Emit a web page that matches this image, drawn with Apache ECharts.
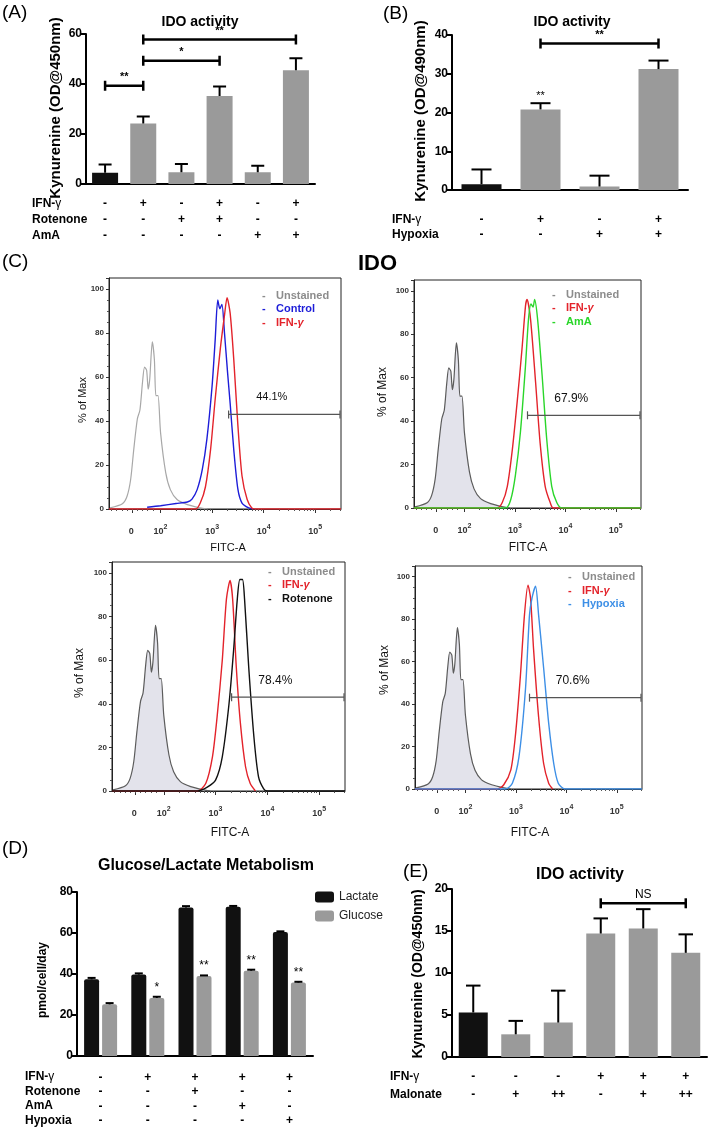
<!DOCTYPE html>
<html>
<head>
<meta charset="utf-8">
<script src="https://cdn.jsdelivr.net/npm/echarts@6/dist/echarts.min.js"></script>
<style>
  html, body { margin: 0; padding: 0; background: #fff; }
  #chart { width: 709px; height: 1129px; }
</style>
</head>
<body>
<div id="chart"></div>
<script>
const FONT = '"Liberation Sans", Arial, sans-serif';

// panel A - IDO activity (OD@450nm)
const aIfn = ['-', '+', '-', '+', '-', '+'];
const aRot = ['-', '-', '+', '+', '-', '-'];
const aAmA = ['-', '-', '-', '-', '+', '+'];
const aMean = [4.5, 24.2, 4.7, 35.2, 4.7, 45.5];
const aErr = [3.3, 2.8, 3.3, 3.8, 2.6, 4.8];
const aSig = [[0, 1, 39.3, '**'], [1, 3, 49.3, '*'], [1, 5, 57.8, '**']];

// panel B - IDO activity (OD@490nm)
const bIfn = ['-', '+', '-', '+'];
const bHyp = ['-', '-', '+', '+'];
const bMean = [1.5, 20.8, 0.9, 31.2];
const bErr = [3.8, 1.6, 2.8, 2.2];
const bStars = ['', '**', '', ''];
const bSig = [[1, 3, 37.8, '**']];

// panel C - flow histograms, x in decades (2 = 10^2), y in % of max
const flowTickVals = [1.45, 2, 3, 4, 5];
const flowTickExp = ['', '2', '3', '4', '5'];
const unstained = [[1.02, 0.5], [1.26, 2.4], [1.35, 5.8], [1.42, 13.4], [1.48, 27], [1.55, 41], [1.6, 45],
  [1.65, 57.6], [1.69, 64.5], [1.73, 63], [1.76, 54.5], [1.79, 59], [1.84, 76], [1.88, 68], [1.91, 51.5],
  [1.95, 51.5], [2.0, 34.7], [2.1, 16.5], [2.19, 8.8], [2.32, 4.3], [2.52, 2], [2.77, 0.5], [2.9, 0]];
const ctrlTL = [[1.74, 0.8], [2.0, 1.5], [2.3, 2.5], [2.52, 3.2], [2.61, 4.5], [2.71, 8.8], [2.81, 18],
  [2.9, 32], [3.0, 56], [3.06, 77], [3.11, 95], [3.15, 91], [3.19, 93], [3.24, 80], [3.3, 62], [3.35, 48],
  [3.42, 27], [3.5, 9], [3.58, 2.7], [3.71, 0.5], [3.8, 0]];
const ifnTL = [[1.0, 0], [2.68, 0], [2.77, 2.7], [2.87, 10], [2.97, 27], [3.06, 50], [3.16, 73], [3.24, 88],
  [3.29, 96], [3.35, 89], [3.42, 68], [3.5, 38], [3.58, 15], [3.68, 4.3], [3.77, 0.5], [3.85, 0], [5.5, 0]];
const ifnTR = [[1.0, 0], [2.65, 0], [2.75, 2.5], [2.85, 10], [2.95, 27], [3.05, 50], [3.14, 73], [3.21, 93],
  [3.24, 96], [3.31, 87], [3.41, 58], [3.5, 30], [3.6, 10], [3.7, 2.5], [3.76, 0], [5.5, 0]];
const amaTR = [[1.0, 0], [2.82, 0], [2.92, 4], [3.01, 15], [3.11, 35], [3.21, 65.5], [3.27, 87], [3.32, 94],
  [3.36, 92.5], [3.39, 96], [3.45, 87], [3.54, 61], [3.63, 32], [3.73, 10], [3.83, 2.5], [3.93, 0], [5.5, 0]];
const ifnBL = [[1.0, 0], [2.65, 0], [2.81, 3.4], [2.94, 15.7], [3.03, 34], [3.13, 60], [3.21, 88], [3.28, 96.5],
  [3.33, 88], [3.4, 57], [3.48, 31], [3.58, 11], [3.67, 3.4], [3.77, 0]];
const rotBL = [[1.0, 0], [2.65, 0], [2.84, 1.8], [3.0, 5], [3.13, 15.7], [3.26, 40], [3.35, 65], [3.42, 88],
  [3.47, 97], [3.52, 97], [3.56, 88], [3.64, 57], [3.74, 25], [3.83, 6.5], [3.93, 1], [4.0, 0], [5.5, 0]];
const ifnBR = [[1.0, 0], [2.63, 0], [2.76, 2], [2.9, 9], [2.99, 25], [3.09, 53.5], [3.17, 82], [3.24, 96],
  [3.29, 90], [3.35, 66], [3.45, 34], [3.55, 12], [3.65, 2.7], [3.73, 0]];
const hypBR = [[1.0, 0], [2.8, 0], [2.93, 2.7], [3.06, 15], [3.19, 47], [3.27, 82], [3.32, 90], [3.39, 95.5],
  [3.45, 82], [3.55, 57], [3.65, 31], [3.75, 12], [3.84, 2.7], [3.97, 0], [5.5, 0]];
const gateTL = [3.32, 5.5, 43, '44.1%'];
const gateTR = [3.25, 5.5, 42.7, '67.9%'];
const gateBL = [3.31, 5.5, 43, '78.4%'];
const gateBR = [3.27, 5.5, 43, '70.6%'];

// panel D - glucose / lactate
const dIfn = ['-', '+', '+', '+', '+'];
const dRot = ['-', '-', '+', '-', '-'];
const dAmA = ['-', '-', '-', '+', '-'];
const dHyp = ['-', '-', '-', '-', '+'];
const lactate = [37.4, 39.7, 72.5, 72.8, 60.5];
const lactateErr = [0.7, 0.6, 0.6, 0.4, 0.3];
const glucose = [25.2, 28.3, 39, 41.6, 35.8];
const glucoseErr = [0.6, 0.6, 0.3, 0.5, 0.4];
const dStars = ['', '*', '**', '**', '**'];

// panel E - IDO activity with malonate
const eIfn = ['-', '-', '-', '+', '+', '+'];
const eMal = ['-', '+', '++', '-', '+', '++'];
const eMean = [5.3, 2.7, 4.1, 14.7, 15.3, 12.4];
const eErr = [3.2, 1.6, 3.8, 1.8, 2.3, 2.2];
const eSig = [[3, 5, 18.3, 'NS']];

const option = {animation: false, grid: [], xAxis: [], yAxis: [], series: [], graphic: []};

function addGrid(box) {
  option.grid.push(Object.assign({containLabel: false, outerBoundsMode: 'none'}, box));
  return option.grid.length - 1;
}

function txt(x, y, s, font, opt) {
  opt = opt || {};
  return {
    type: 'text', x: x, y: y, rotation: opt.rot || 0, z: 100,
    style: {text: s, font: font, fill: opt.fill || '#000', textAlign: opt.align || 'left',
      textVerticalAlign: 'middle', rich: opt.rich}
  };
}

function errRender(capW, dx) {
  return function (params, api) {
    const p0 = api.coord([api.value(0), api.value(1)]);
    const p1 = api.coord([api.value(0), api.value(1) + api.value(2)]);
    const x = p0[0] + (dx || 0);
    const st = {stroke: '#000', lineWidth: 2};
    return {type: 'group', children: [
      {type: 'line', shape: {x1: x, y1: p0[1], x2: x, y2: p1[1]}, style: st},
      {type: 'line', shape: {x1: x - capW / 2, y1: p1[1], x2: x + capW / 2, y2: p1[1]}, style: st}
    ]};
  };
}

function sigRender(list, font) {
  return function (params, api) {
    const a = api.coord([api.value(0), api.value(2)]);
    const b = api.coord([api.value(1), api.value(2)]);
    const st = {stroke: '#000', lineWidth: 2.5};
    return {type: 'group', children: [
      {type: 'line', shape: {x1: a[0], y1: a[1], x2: b[0], y2: b[1]}, style: st},
      {type: 'line', shape: {x1: a[0], y1: a[1] - 5, x2: a[0], y2: a[1] + 5}, style: st},
      {type: 'line', shape: {x1: b[0], y1: b[1] - 5, x2: b[0], y2: b[1] + 5}, style: st},
      {type: 'text', style: {text: list[params.dataIndex][3], x: (a[0] + b[0]) / 2, y: a[1] - 3,
        textAlign: 'center', textVerticalAlign: 'bottom', font: font, fill: '#000'}}
    ]};
  };
}

function barAxes(gi, rows, yMax, yInt, lineH, margin) {
  const cats = rows[0].map((s, i) => 'c' + i);
  option.xAxis.push({
    type: 'category', gridIndex: gi, data: cats,
    axisLine: {lineStyle: {color: '#000', width: 2}},
    axisTick: {alignWithLabel: true, length: 5, lineStyle: {color: '#000', width: 2}},
    axisLabel: {interval: 0, margin: margin, lineHeight: lineH, fontSize: 12, fontWeight: 'bold',
      color: '#000', fontFamily: FONT, formatter: (v, i) => rows.map(r => r[i]).join('\n')}
  });
  option.yAxis.push({
    type: 'value', gridIndex: gi, min: 0, max: yMax, interval: yInt, splitLine: {show: false},
    axisLine: {show: true, lineStyle: {color: '#000', width: 2}},
    axisTick: {show: true, length: 5, lineStyle: {color: '#000', width: 2}},
    axisLabel: {fontSize: 12, fontWeight: 'bold', color: '#000', margin: 4, fontFamily: FONT}
  });
  return [option.xAxis.length - 1, option.yAxis.length - 1];
}

function simpleBars(ax, vals, errs, barW, stars, starDist) {
  option.series.push({
    type: 'bar', xAxisIndex: ax[0], yAxisIndex: ax[1], data: vals, barWidth: barW, z: 2,
    itemStyle: {color: p => p.dataIndex === 0 ? '#111' : '#9a9a9a'},
    label: stars ? {show: true, position: 'top', distance: starDist, formatter: p => stars[p.dataIndex],
      fontSize: 11, color: '#000', fontFamily: FONT} : {show: false}
  });
  option.series.push({
    type: 'custom', xAxisIndex: ax[0], yAxisIndex: ax[1], z: 3, clip: false,
    data: vals.map((v, i) => [i, v, errs[i]]), renderItem: errRender(barW * 0.5, 0)
  });
}

function sigSeries(ax, list, font) {
  option.series.push({
    type: 'custom', xAxisIndex: ax[0], yAxisIndex: ax[1], z: 4, clip: false,
    data: list.map(s => [s[0], s[1], s[2]]), renderItem: sigRender(list, font)
  });
}

const IFN_RICH = {b: {font: 'bold 12px ' + FONT, fill: '#000'}, g: {font: '12px ' + FONT, fill: '#000'}};
function rowNames(x, ys, names) {
  names.forEach((nm, i) => {
    if (nm === 'IFN-γ') option.graphic.push(txt(x, ys[i], '{b|IFN-}{g|γ}', 'bold 12px ' + FONT, {rich: IFN_RICH}));
    else option.graphic.push(txt(x, ys[i], nm, 'bold 12px ' + FONT));
  });
}

// ---------- A
let gA = addGrid({left: 86, top: 34, width: 229, height: 150});
let axA = barAxes(gA, [aIfn, aRot, aAmA], 60, 20, 16, 12);
simpleBars(axA, aMean, aErr, 26);
sigSeries(axA, aSig, 'bold 11px ' + FONT);
rowNames(32, [204, 220, 236], ['IFN-γ', 'Rotenone', 'AmA']);
option.graphic.push(txt(2, 13, '(A)', '19px ' + FONT));
option.graphic.push(txt(200, 22, 'IDO activity', 'bold 14px ' + FONT, {align: 'center'}));
option.graphic.push(txt(56, 108, 'Kynurenine (OD@450nm)', 'bold 15px ' + FONT, {align: 'center', rot: Math.PI / 2}));

// ---------- B
let gB = addGrid({left: 452, top: 35, width: 236, height: 155});
let axB = barAxes(gB, [bIfn, bHyp], 40, 10, 15, 22);
simpleBars(axB, bMean, bErr, 40, bStars, 8);
sigSeries(axB, bSig, 'bold 11px ' + FONT);
rowNames(392, [220, 235], ['IFN-γ', 'Hypoxia']);
option.graphic.push(txt(383, 14, '(B)', '19px ' + FONT));
option.graphic.push(txt(572, 22, 'IDO activity', 'bold 14px ' + FONT, {align: 'center'}));
option.graphic.push(txt(421, 111, 'Kynurenine (OD@490nm)', 'bold 15px ' + FONT, {align: 'center', rot: Math.PI / 2}));

// ---------- C
option.graphic.push(txt(2, 262, '(C)', '19px ' + FONT));
option.graphic.push(txt(358, 264, 'IDO', 'bold 22px ' + FONT));

const flowMinor = [];
for (let u = 1.05; u < 1.95; u += 0.1) flowMinor.push(+u.toFixed(2));
for (let d = 2; d <= 5; d++) {
  for (let k = 2; k <= 9; k++) {
    const u = d + Math.log10(k);
    if (u <= 5.5) flowMinor.push(u);
  }
}

const GRAY_LINE = '#5c5c5c', GRAY_FILL = '#e3e3eb';
const flowPlots = [
  {box: {left: 109, top: 278, width: 232, height: 231}, lightUnstained: true,
    curves: [[ctrlTL, '#1d1dd8'], [ifnTL, '#e3232b']], gate: gateTL, gateFont: 11,
    legend: [['Unstained', '#8c8c8c'], ['Control', '#1d1dd8'], ['IFN-γ', '#e3232b']],
    legX: 262, legY: [296, 309, 323], yName: [83, 400], xName: [228, 548], nameSize: 11},
  {box: {left: 414, top: 280, width: 227, height: 228},
    curves: [[ifnTR, '#e3232b'], [amaTR, '#2ad62a']], gate: gateTR, gateFont: 12,
    legend: [['Unstained', '#8c8c8c'], ['IFN-γ', '#e3232b'], ['AmA', '#2ad62a']],
    legX: 552, legY: [295, 308, 322], yName: [383, 392], xName: [528, 548], nameSize: 12},
  {box: {left: 112, top: 562, width: 233, height: 229},
    curves: [[ifnBL, '#e3232b'], [rotBL, '#111111']], gate: gateBL, gateFont: 12,
    legend: [['Unstained', '#8c8c8c'], ['IFN-γ', '#e3232b'], ['Rotenone', '#111111']],
    legX: 268, legY: [572, 585, 599], yName: [80, 673], xName: [230, 833], nameSize: 12},
  {box: {left: 415, top: 566, width: 227, height: 223},
    curves: [[ifnBR, '#e3232b'], [hypBR, '#3d8fe6']], gate: gateBR, gateFont: 12,
    legend: [['Unstained', '#8c8c8c'], ['IFN-γ', '#e3232b'], ['Hypoxia', '#3d8fe6']],
    legX: 568, legY: [577, 591, 604], yName: [385, 670], xName: [530, 833], nameSize: 12}
];

function gateRender(label, fs) {
  return function (params, api) {
    const a = api.coord([api.value(0), api.value(2)]);
    const b = api.coord([api.value(1), api.value(2)]);
    const st = {stroke: '#555', lineWidth: 1.2};
    return {type: 'group', children: [
      {type: 'line', shape: {x1: a[0], y1: a[1], x2: b[0] - 1, y2: b[1]}, style: st},
      {type: 'line', shape: {x1: a[0], y1: a[1] - 4, x2: a[0], y2: a[1] + 4}, style: st},
      {type: 'line', shape: {x1: b[0] - 1, y1: b[1] - 4, x2: b[0] - 1, y2: b[1] + 4}, style: st},
      {type: 'text', style: {text: label, x: (a[0] + b[0]) / 2 - 13, y: a[1] - 17, textAlign: 'center',
        textVerticalAlign: 'middle', font: fs + 'px ' + FONT, fill: '#111'}}
    ]};
  };
}

flowPlots.forEach(fp => {
  const gi = addGrid(Object.assign({show: true, borderColor: '#222', borderWidth: 1}, fp.box));
  option.xAxis.push({
    type: 'value', gridIndex: gi, min: 1, max: 5.5, position: 'bottom', splitLine: {show: false},
    axisLine: {show: true, lineStyle: {color: '#222', width: 1}},
    axisTick: {show: true, length: 4, customValues: flowTickVals, lineStyle: {color: '#333'}},
    axisLabel: {customValues: flowTickVals, margin: 15, fontFamily: FONT,
      rich: {
        b: {fontSize: 9, fontWeight: 'bold', color: '#333', fontFamily: FONT},
        s: {fontSize: 7, fontWeight: 'bold', color: '#333', fontFamily: FONT, padding: [0, 0, 8, 0]}
      },
      formatter: v => {
        const i = flowTickVals.findIndex(t => Math.abs(t - v) < 1e-6);
        if (i < 0) return '';
        return flowTickExp[i] ? '{b|10}{s|' + flowTickExp[i] + '}' : '{b|0}{s| }';
      }}
  });
  const xi = option.xAxis.length - 1;
  option.xAxis.push({
    type: 'value', gridIndex: gi, min: 1, max: 5.5, position: 'bottom', offset: 0, splitLine: {show: false},
    axisLine: {show: false}, axisLabel: {show: false},
    axisTick: {show: true, length: 2, customValues: flowMinor, lineStyle: {color: '#555'}}
  });
  option.yAxis.push({
    type: 'value', gridIndex: gi, min: 0, max: 105, interval: 20, splitLine: {show: false},
    axisLine: {show: true, lineStyle: {color: '#222', width: 1}},
    axisTick: {show: true, length: 3, lineStyle: {color: '#333'}},
    minorTick: {show: true, splitNumber: 4, length: 2, lineStyle: {color: '#555'}},
    axisLabel: {fontSize: 8, fontWeight: 'bold', color: '#333', margin: 5, fontFamily: FONT,
      formatter: v => v > 100 ? '' : String(v)}
  });
  const yi = option.yAxis.length - 1;
  option.series.push({
    type: 'line', xAxisIndex: xi, yAxisIndex: yi, data: unstained, symbol: 'none', smooth: 0.25, z: 2,
    lineStyle: {color: fp.lightUnstained ? '#a8a8a8' : GRAY_LINE, width: 1.2},
    areaStyle: fp.lightUnstained ? null : {color: GRAY_FILL, opacity: 1}
  });
  fp.curves.forEach((c, k) => {
    option.series.push({
      type: 'line', xAxisIndex: xi, yAxisIndex: yi, data: c[0], symbol: 'none', smooth: 0.25, z: 3 + k,
      lineStyle: {color: c[1], width: 1.4}
    });
  });
  option.series.push({
    type: 'custom', xAxisIndex: xi, yAxisIndex: yi, z: 6, clip: false,
    data: [[fp.gate[0], fp.gate[1], fp.gate[2]]], renderItem: gateRender(fp.gate[3], fp.gateFont)
  });
  fp.legend.forEach((lg, k) => {
    option.graphic.push(txt(fp.legX, fp.legY[k], '-', 'bold 11px ' + FONT, {fill: lg[1]}));
    if (lg[0] === 'IFN-γ') {
      option.graphic.push(txt(fp.legX + 14, fp.legY[k], '{b|IFN-}{g|γ}', 'bold 11px ' + FONT, {rich: {
        b: {font: 'bold 11px ' + FONT, fill: lg[1]}, g: {font: 'italic bold 11px ' + FONT, fill: lg[1]}}}));
    } else {
      option.graphic.push(txt(fp.legX + 14, fp.legY[k], lg[0], 'bold 11px ' + FONT, {fill: lg[1]}));
    }
  });
  option.graphic.push(txt(fp.yName[0], fp.yName[1], '% of Max', fp.nameSize + 'px ' + FONT, {align: 'center', rot: Math.PI / 2, fill: '#111'}));
  option.graphic.push(txt(fp.xName[0], fp.xName[1], 'FITC-A', fp.nameSize + 'px ' + FONT, {align: 'center', fill: '#111'}));
});

// ---------- D
let gD = addGrid({left: 77, top: 892, width: 236, height: 164});
let axD = barAxes(gD, [dIfn, dRot, dAmA, dHyp], 80, 20, 14.5, 14);
option.series.push({
  type: 'bar', name: 'Lactate', xAxisIndex: axD[0], yAxisIndex: axD[1], data: lactate, barWidth: 15,
  barGap: '20%', z: 2, itemStyle: {color: '#111', borderRadius: [2, 2, 0, 0]}
});
option.series.push({
  type: 'bar', name: 'Glucose', xAxisIndex: axD[0], yAxisIndex: axD[1], data: glucose, barWidth: 15,
  barGap: '20%', z: 2, itemStyle: {color: '#9a9a9a', borderRadius: [2, 2, 0, 0]},
  label: {show: true, position: 'top', distance: 4, formatter: p => dStars[p.dataIndex],
    fontSize: 12, color: '#000', fontFamily: FONT}
});
option.series.push({
  type: 'custom', xAxisIndex: axD[0], yAxisIndex: axD[1], z: 3, clip: false,
  data: lactate.map((v, i) => [i, v, lactateErr[i]]), renderItem: errRender(8, -9)
});
option.series.push({
  type: 'custom', xAxisIndex: axD[0], yAxisIndex: axD[1], z: 3, clip: false,
  data: glucose.map((v, i) => [i, v, glucoseErr[i]]), renderItem: errRender(8, 9)
});
option.legend = {
  data: ['Lactate', 'Glucose'], left: 310, top: 886, orient: 'vertical', itemWidth: 19, itemHeight: 11,
  itemGap: 7, icon: 'roundRect', textStyle: {fontSize: 12, color: '#222', fontFamily: FONT}
};
rowNames(25, [1077, 1091.5, 1106, 1120.5], ['IFN-γ', 'Rotenone', 'AmA', 'Hypoxia']);
option.graphic.push(txt(2, 849, '(D)', '19px ' + FONT));
option.graphic.push(txt(206, 866, 'Glucose/Lactate Metabolism', 'bold 16px ' + FONT, {align: 'center'}));
option.graphic.push(txt(43, 980, 'pmol/cell/day', 'bold 12px ' + FONT, {align: 'center', rot: Math.PI / 2}));

// ---------- E
let gE = addGrid({left: 452, top: 889, width: 255, height: 168});
let axE = barAxes(gE, [eIfn, eMal], 20, 5, 18, 11);
simpleBars(axE, eMean, eErr, 29);
sigSeries(axE, eSig, '12px ' + FONT);
rowNames(390, [1077, 1095], ['IFN-γ', 'Malonate']);
option.graphic.push(txt(403, 872, '(E)', '19px ' + FONT));
option.graphic.push(txt(580, 875, 'IDO activity', 'bold 16px ' + FONT, {align: 'center'}));
option.graphic.push(txt(418, 974, 'Kynurenine (OD@450nm)', 'bold 14px ' + FONT, {align: 'center', rot: Math.PI / 2}));

const chart = echarts.init(document.getElementById('chart'), null, {renderer: 'canvas'});
chart.setOption(option);
</script>
</body>
</html>
